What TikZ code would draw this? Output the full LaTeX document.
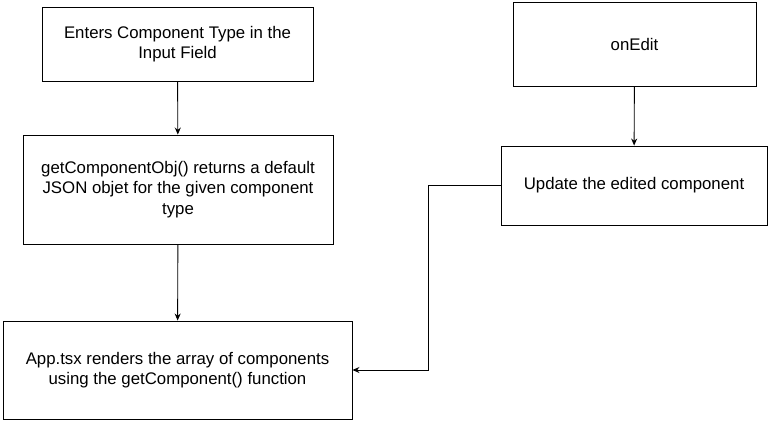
\documentclass[tikz,border=0pt]{standalone}
\usepackage{fontspec}
\setmainfont{Liberation Sans}
\usetikzlibrary{arrows.meta}

\tikzset{
    stepbox/.style={draw, line width=0.9pt, align=center, inner sep=0pt, font=\fontsize{16.8}{20.5}\selectfont},
    arr/.style={line width=0.9pt, -{Stealth[length=7pt,width=6pt]}}
}

\begin{document}
\begin{tikzpicture}[x=1pt,y=-1pt]
            \useasboundingbox (0,0) rectangle (770,422);

            \node[stepbox, minimum width=271pt, minimum height=74pt] (enter) at (177.5,44) {Enters Component Type in the\\Input Field};
            \node[stepbox, minimum width=310pt, minimum height=109pt] (getobj) at (178,189.5) {getComponentObj() returns a default\\JSON objet for the given component\\type};
            \node[stepbox, minimum width=349pt, minimum height=98pt] (render) at (177.5,370) {App.tsx renders the array of components\\using the getComponent() function};
            \node[stepbox, minimum width=243pt, minimum height=84pt] (onedit) at (634.5,44) {onEdit};
            \node[stepbox, minimum width=266pt, minimum height=79pt] (update) at (634,185.5) {Update the edited component};

            \coordinate (bend) at (428,185.5);

            \draw[arr] (enter)-- (getobj);
            \draw[arr] (getobj)-- (render);
            \draw[arr] (onedit)-- (update);
            \draw[arr] (update.west)-- (bend) |- (render.east);
            % \draw[arr] (update)-- (render);
        \end{tikzpicture}
\end{document}
